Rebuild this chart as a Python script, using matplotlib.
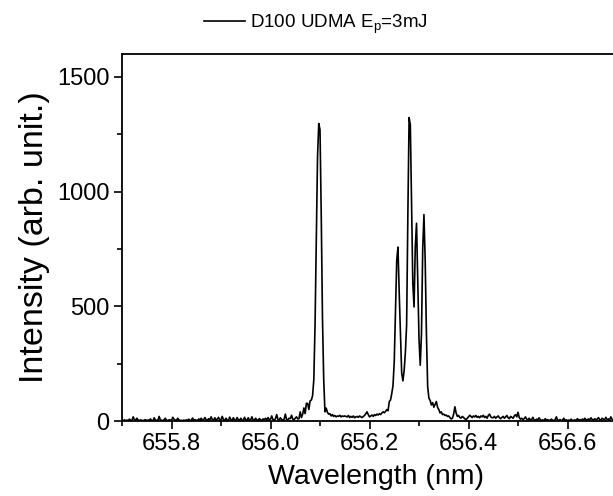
import numpy as np
import matplotlib
matplotlib.use("Agg")
import matplotlib.pyplot as plt
from matplotlib.ticker import MultipleLocator

plt.rcParams['font.family'] = ['Liberation Sans', 'DejaVu Sans']
plt.rcParams['mathtext.default'] = 'regular'

WL_START, WL_STEP = 655.700, 0.0025
base_left = [
    3, 2, 5, 1, 4, 2, 8, 3, 2, 18, 6, 3, 12, 4, 2, 5, 3, 1, 4, 6,
    2, 4, 3, 9, 2, 1, 14, 4, 3, 2, 20, 5, 3, 2, 6, 12, 3, 2, 5, 4,
    3, 16, 8, 4, 3, 12, 5, 2, 3, 1, 4, 2, 5, 3, 8, 2, 3, 13, 4, 6,
    3, 2, 9, 4, 12, 3, 6, 15, 5, 3, 10, 4, 18, 6, 3, 14, 5, 8, 16, 4,
    6, 20, 5, 3, 12, 4, 2, 17, 6, 3, 14, 4, 3, 15, 5, 3, 12, 4, 2, 16,
    5, 3, 14, 4, 6, 18, 3, 5, 12, 4, 2, 11, 5, 3, 9, 6, 12, 4, 15, 5,
    8, 22, 6, 4, 10, 28, 7, 5, 14, 6, 4, 8, 30, 6, 5, 12, 10, 25, 8, 6,
    12, 18, 9, 10, 40, 15, 30, 57, 32, 77, 77, 50, 88, 91, 110, 180,
]
peak_656_10 = [420, 800, 1150, 1297, 1270, 900, 450, 180, 40, 56, 38, 30, 32]
base_mid = [
    22, 28, 20, 24, 18, 22, 20, 25, 18, 22, 20,
    22, 20, 18, 24, 15, 20, 16, 22, 14, 18, 20, 16, 22, 18, 15, 20, 24, 32, 40, 28,
    18, 22, 26, 20, 28, 24, 30, 26, 32, 28, 35, 40, 36, 42, 50, 45, 85, 92, 120, 155,
]
cluster_656_28 = [
    260, 480, 700, 758, 560, 380, 210, 175, 220, 300, 420, 900, 1323, 1290, 950, 600, 497, 760, 862, 620,
    360, 243, 380, 750, 900, 700, 380, 150, 100, 90, 70, 80, 60, 72, 85, 60, 50, 35, 40, 28,
]
base_right = [
    30, 24, 26, 20, 22, 15, 9, 12, 30, 62, 35, 20, 24, 15, 13, 20, 15, 10, 5, 12,
    18, 25, 20, 15, 22, 18, 24, 16, 20, 14, 22, 18, 25, 15, 20, 12, 24, 30, 18, 14,
    15, 20, 12, 18, 22, 14, 10, 16, 20, 12, 18, 24, 14, 10, 20, 16, 12, 22, 28, 18,
    38, 15, 8, 12, 6, 10, 18, 8, 5, 12, 4, 6, 16, 5, 3, 8, 4, 14, 6, 3,
    5, 2, 10, 3, 6, 2, 4, 8, 3, 2, 5, 18, 4, 3, 6, 2, 4, 12, 3, 5,
    2, 4, 3, 8, 2, 3, 5, 2, 10, 4, 6, 3, 8, 5, 12, 4, 6, 9, 5, 14,
    6, 4, 10, 5, 8, 15, 6, 4, 12, 8, 5, 16, 6, 9, 4, 18, 7, 5, 10, 6, 8,
]
intensity = np.array(base_left + peak_656_10 + base_mid + cluster_656_28 + base_right, dtype=float)
wavelength = WL_START + WL_STEP * np.arange(len(intensity))

X_TICKS = [655.8, 656.0, 656.2, 656.4, 656.6]
Y_TICKS = [0, 500, 1000, 1500]
LABEL = "D100 UDMA E$_{p}$=3mJ"

fig = plt.figure(figsize=(6.13, 4.96), dpi=100)
ax = fig.add_axes([122 / 613, 1 - 421 / 496, 495 / 613, (421 - 54) / 496])
ax.plot(wavelength, intensity, color="black", lw=1.2, label=LABEL)

ax.set_xlim(655.7, 656.7)
ax.set_ylim(0, 1600)
ax.set_xticks(X_TICKS)
ax.set_xticklabels([f"{v:.1f}" for v in X_TICKS])
ax.set_yticks(Y_TICKS)
ax.xaxis.set_minor_locator(MultipleLocator(0.1))
ax.yaxis.set_minor_locator(MultipleLocator(250))
ax.tick_params(which="major", direction="out", length=6, width=1.2, labelsize=17, pad=3)
ax.tick_params(which="minor", direction="out", length=3.5, width=1.2)
for s in ax.spines.values(): s.set_linewidth(1.3)
ax.spines["right"].set_visible(False)

ax.set_xlabel("Wavelength (nm)", fontsize=20.5)
ax.xaxis.set_label_coords((376 - 122) / 495, -0.118)
ax.set_ylabel("Intensity (arb. unit.)", fontsize=24.5, labelpad=5)

fig.legend(loc="center", bbox_to_anchor=(316 / 613, 1 - 24 / 496), frameon=False,
           fontsize=13.5, handlelength=2.2, handletextpad=0.25)

fig.savefig("out.png", dpi=100)
